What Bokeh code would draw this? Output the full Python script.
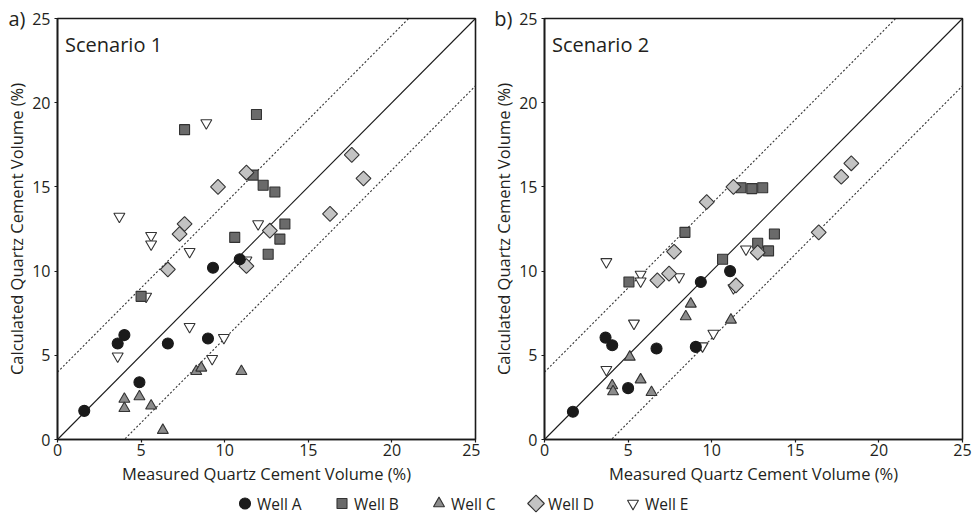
import numpy as np
from bokeh.plotting import figure
from bokeh.layouts import column, row
from bokeh.models import Label, Range1d, FixedTicker, FactorRange, ColumnDataSource, LinearAxis
from bokeh.embed import file_html
from bokeh.resources import INLINE
from bokeh.core.properties import value

FONT = "Open Sans"
TXT = "#231f20"

AX_MIN, AX_MAX = 0, 25
TICKS = [0, 5, 10, 15, 20, 25]
BAND = 4  # +/- 4 % envelope (dotted lines)

X_TITLE = "Measured Quartz Cement Volume (%)"
Y_TITLE = "Calculated Quartz Cement Volume (%)"

wells = ["Well A", "Well B", "Well C", "Well D", "Well E"]

# ---------------- Scenario 1 (panel a) ----------------
s1_a_x = [1.6, 4.9, 3.6, 4.0, 6.6, 9.0, 9.3, 10.9]
s1_a_y = [1.7, 3.4, 5.7, 6.2, 5.7, 6.0, 10.2, 10.7]
s1_b_x = [7.6, 11.9, 11.7, 12.3, 13.0, 13.6, 10.6, 13.3, 12.6, 5.0]
s1_b_y = [18.4, 19.3, 15.7, 15.1, 14.7, 12.8, 12.0, 11.9, 11.0, 8.5]
s1_c_x = [4.0, 4.0, 4.9, 5.6, 6.3, 8.3, 8.6, 11.0]
s1_c_y = [2.4, 1.85, 2.55, 2.0, 0.55, 4.05, 4.25, 4.05]
s1_d_x = [17.6, 18.3, 11.3, 9.6, 16.3, 7.6, 7.3, 12.7, 6.6, 11.3]
s1_d_y = [16.9, 15.5, 15.85, 15.0, 13.4, 12.8, 12.2, 12.4, 10.1, 10.3]
s1_e_x = [8.9, 3.7, 5.6, 5.6, 7.9, 12.0, 11.3, 5.3, 7.9, 9.95, 9.25, 3.6]
s1_e_y = [18.8, 13.25, 12.1, 11.6, 11.15, 12.8, 10.65, 8.5, 6.7, 6.05, 4.8, 4.95]

# ---------------- Scenario 2 (panel b) ----------------
s2_a_x = [1.7, 5.0, 3.65, 4.05, 6.7, 9.05, 9.35, 11.1]
s2_a_y = [1.65, 3.05, 6.05, 5.6, 5.4, 5.5, 9.35, 10.0]
s2_b_x = [11.75, 12.4, 13.05, 8.4, 13.75, 12.75, 13.4, 10.65, 5.05]
s2_b_y = [14.95, 14.9, 14.95, 12.3, 12.2, 11.65, 11.2, 10.7, 9.35]
s2_c_x = [4.05, 4.1, 5.1, 5.75, 6.4, 8.45, 8.75, 11.15]
s2_c_y = [3.2, 2.85, 4.9, 3.55, 2.8, 7.3, 8.05, 7.1]
s2_d_x = [18.35, 17.75, 11.3, 9.7, 16.4, 7.75, 12.75, 7.45, 6.75, 11.45]
s2_d_y = [16.4, 15.6, 15.0, 14.1, 12.3, 11.15, 11.1, 9.85, 9.45, 9.15]
s2_e_x = [3.7, 5.75, 5.75, 8.05, 12.05, 11.3, 5.35, 3.7, 10.1, 9.45]
s2_e_y = [10.55, 9.8, 9.4, 9.65, 11.3, 9.0, 6.9, 4.15, 6.3, 5.55]

scenario1 = {"Well A": (s1_a_x, s1_a_y), "Well B": (s1_b_x, s1_b_y), "Well C": (s1_c_x, s1_c_y),
             "Well D": (s1_d_x, s1_d_y), "Well E": (s1_e_x, s1_e_y)}
scenario2 = {"Well A": (s2_a_x, s2_a_y), "Well B": (s2_b_x, s2_b_y), "Well C": (s2_c_x, s2_c_y),
             "Well D": (s2_d_x, s2_d_y), "Well E": (s2_e_x, s2_e_y)}

STYLE = {
    "Well A": dict(marker="circle", size=11, angle=0.0, fill_color="#1a1a1a", line_color="#1a1a1a"),
    "Well B": dict(marker="square", size=10, angle=0.0, fill_color="#6a6a6a", line_color="#333333"),
    "Well C": dict(marker="triangle", size=11, angle=0.0, fill_color="#8c8c8c", line_color="#333333"),
    "Well D": dict(marker="square", size=10.5, angle=np.pi / 4, fill_color="#c3c3c3", line_color="#333333"),
    "Well E": dict(marker="inverted_triangle", size=11, angle=0.0, fill_color="white", line_color="#333333"),
}
DRAW_ORDER = ["Well E", "Well B", "Well D", "Well C", "Well A"]

PANEL_H = 492
LEGEND_H = 521 - PANEL_H


def make_panel(data, scen_text, letter, width, border_left, border_right):
    p = figure(width=width, height=PANEL_H, x_range=Range1d(AX_MIN, AX_MAX), y_range=Range1d(AX_MIN, AX_MAX),
               output_backend="svg", toolbar_location=None,
               min_border_left=border_left, min_border_right=border_right,
               min_border_top=18, min_border_bottom=PANEL_H - 439)
    p.grid.visible = False
    p.background_fill_color = "white"
    p.border_fill_color = "white"
    p.outline_line_color = "#1a1a1a"
    p.outline_line_width = 1.6
    p.outline_line_alpha = 1.0

    for ax in (p.xaxis[0], p.yaxis[0]):
        ax.ticker = FixedTicker(ticks=TICKS)
        ax.minor_tick_line_color = None
        ax.major_tick_out = 3
        ax.major_tick_in = 0
        ax.major_tick_line_color = "#1a1a1a"
        ax.major_tick_line_width = 1.2
        ax.axis_line_color = "#1a1a1a"
        ax.axis_line_width = 1.6
        ax.major_label_text_font = FONT
        ax.major_label_text_font_size = "16px"
        ax.major_label_text_color = TXT
        ax.axis_label_text_font = FONT
        ax.axis_label_text_font_size = "16.5px"
        ax.axis_label_text_font_style = "normal"
        ax.axis_label_text_color = TXT
    p.xaxis.axis_label = X_TITLE
    p.yaxis.axis_label = Y_TITLE
    p.xaxis.major_label_standoff = 1
    p.xaxis.axis_label_standoff = 3
    p.yaxis.major_label_standoff = 4
    p.yaxis.axis_label_standoff = 1

    # panel letter: an outer, line-less left axis with a single labelled tick at the top
    letter_axis = LinearAxis(ticker=FixedTicker(ticks=[AX_MAX]),
                             major_label_overrides={AX_MAX: letter},
                             axis_line_color=None, major_tick_line_color=None,
                             minor_tick_line_color=None, major_tick_out=0, major_tick_in=0,
                             major_label_standoff=-23,
                             major_label_text_font=FONT, major_label_text_font_size="20px",
                             major_label_text_color=TXT)
    p.add_layout(letter_axis, "left")

    diag = [AX_MIN, AX_MAX]
    p.line(diag, diag, line_color="#1a1a1a", line_width=1.1)
    p.line(diag, [v + BAND for v in diag], line_color="#333333", line_width=1.1, line_dash="2 2")
    p.line(diag, [v - BAND for v in diag], line_color="#333333", line_width=1.1, line_dash="2 2")

    for w in DRAW_ORDER:
        xs, ys = data[w]
        st = STYLE[w]
        p.scatter(xs, ys, marker=st["marker"], size=st["size"], angle=st["angle"],
                  fill_color=st["fill_color"], line_color=st["line_color"], line_width=1.1)

    p.add_layout(Label(x=0.45, y=23.45, text=scen_text, text_font=FONT, text_font_size="20px",
                       text_color=TXT, text_align="left", text_baseline="alphabetic"))
    return p


pa = make_panel(scenario1, "Scenario 1", "a)", 480, 57, 5)
pb = make_panel(scenario2, "Scenario 2", "b)", 496, 64, 14)

# ---------------- Legend strip ----------------
leg = figure(width=976, height=LEGEND_H,
             x_range=FactorRange(*wells, range_padding=1, range_padding_units="absolute"),
             y_range=Range1d(-1, 1),
             output_backend="svg", toolbar_location=None,
             x_axis_location=None, y_axis_location=None,
             min_border_left=99, min_border_right=198, min_border_top=1, min_border_bottom=LEGEND_H - 21)
leg.grid.visible = False
leg.outline_line_color = None
leg_src = ColumnDataSource(dict(
    x=wells, y=[0] * len(wells),
    marker=[STYLE[w]["marker"] for w in wells],
    size=[STYLE[w]["size"] * (1.12 if w == "Well D" else 1.0) for w in wells],
    angle=[STYLE[w]["angle"] for w in wells],
    fill=[STYLE[w]["fill_color"] for w in wells],
    line=[STYLE[w]["line_color"] for w in wells],
))
leg.scatter("x", "y", source=leg_src, marker="marker", size="size", angle="angle",
            fill_color="fill", line_color="line", line_width=1.1)
leg.text(x=wells, y=[0] * len(wells), text=wells, x_offset=12, text_align="left",
         text_baseline="middle", text_font=value(FONT), text_font_size="15.5px", text_color=TXT)

layout = column(row(pa, pb, spacing=0), leg, spacing=0)

with open("out.html", "w") as f:
    f.write(file_html(layout, INLINE))
